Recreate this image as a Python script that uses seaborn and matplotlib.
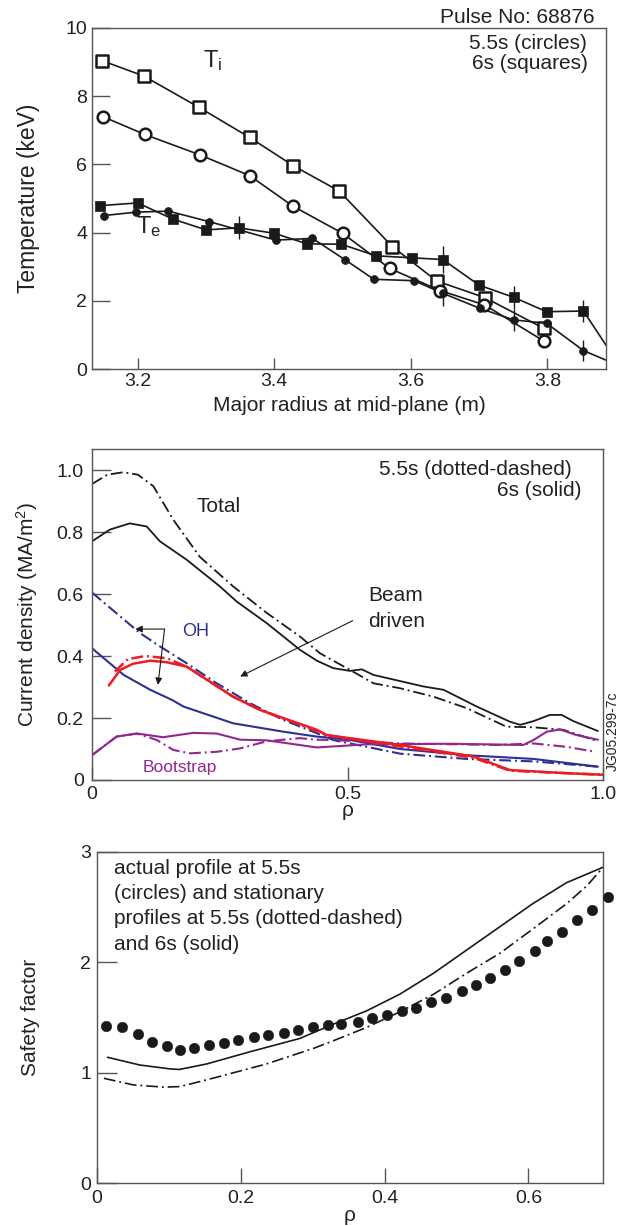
import numpy as np
import pandas as pd
import matplotlib
matplotlib.use("Agg")
import matplotlib.pyplot as plt
import seaborn as sns

# ---------------- data: top panel (temperature) ----------------
ti_sq_R = [3.148, 3.209, 3.290, 3.364, 3.428, 3.495, 3.573, 3.638, 3.709, 3.795]
ti_sq_T = [9.04, 8.59, 7.67, 6.79, 5.96, 5.22, 3.59, 2.58, 2.09, 1.19]
ti_ci_R = [3.149, 3.210, 3.291, 3.364, 3.427, 3.500, 3.569, 3.643, 3.708, 3.795]
ti_ci_T = [7.40, 6.88, 6.28, 5.67, 4.78, 3.98, 2.95, 2.30, 1.88, 0.82]
te_sq_R = [3.144, 3.200, 3.251, 3.300, 3.348, 3.400, 3.448, 3.498, 3.549, 3.602, 3.647, 3.700, 3.751, 3.799, 3.853]
te_sq_T = [4.79, 4.87, 4.40, 4.08, 4.14, 3.98, 3.67, 3.66, 3.32, 3.26, 3.21, 2.46, 2.10, 1.68, 1.70]
te_ci_R = [3.150, 3.198, 3.245, 3.305, 3.402, 3.456, 3.504, 3.546, 3.605, 3.647, 3.701, 3.751, 3.799, 3.853]
te_ci_T = [4.50, 4.60, 4.63, 4.32, 3.78, 3.83, 3.20, 2.63, 2.59, 2.22, 1.78, 1.44, 1.34, 0.54]
# where the Te lines leave the plot at the right edge
te_sq_edge = [3.886, 0.70]
te_ci_edge = [3.886, 0.26]
# error bars
eb_sq_R = [3.348, 3.647, 3.751, 3.853]
eb_sq_T = [4.14, 3.21, 2.10, 1.70]
eb_sq_err = [0.34, 0.40, 0.34, 0.33]
eb_ci_R = [3.647, 3.751, 3.853]
eb_ci_T = [2.22, 1.44, 0.54]
eb_ci_err = [0.38, 0.33, 0.30]

# ---------------- data: middle panel (current density) ----------------
tot55_x = [0.0, 0.03, 0.061, 0.09, 0.12, 0.159, 0.211, 0.276, 0.342, 0.407, 0.446, 0.505, 0.551, 0.603, 0.668, 0.733, 0.811, 0.864, 0.922, 0.99]
tot55_y = [0.955, 0.985, 0.993, 0.985, 0.948, 0.84, 0.72, 0.625, 0.539, 0.463, 0.409, 0.355, 0.312, 0.296, 0.269, 0.232, 0.172, 0.17, 0.162, 0.125]
tot6_x = [0.0, 0.035, 0.074, 0.107, 0.133, 0.185, 0.25, 0.283, 0.342, 0.407, 0.44, 0.472, 0.505, 0.528, 0.551, 0.648, 0.688, 0.753, 0.818, 0.838, 0.864, 0.896, 0.919, 0.942, 0.99]
tot6_y = [0.77, 0.808, 0.828, 0.818, 0.77, 0.711, 0.625, 0.576, 0.506, 0.42, 0.385, 0.361, 0.352, 0.357, 0.339, 0.302, 0.291, 0.237, 0.188, 0.178, 0.19, 0.21, 0.21, 0.19, 0.158]
oh55_x = [0.0, 0.055, 0.094, 0.133, 0.185, 0.244, 0.309, 0.374, 0.44, 0.472, 0.603, 0.733, 0.864, 0.99]
oh55_y = [0.605, 0.528, 0.474, 0.431, 0.377, 0.312, 0.248, 0.194, 0.151, 0.129, 0.085, 0.068, 0.06, 0.043]
oh6_x = [0.0, 0.062, 0.114, 0.157, 0.179, 0.276, 0.374, 0.44, 0.505, 0.603, 0.733, 0.864, 0.99]
oh6_y = [0.425, 0.339, 0.291, 0.258, 0.237, 0.183, 0.156, 0.14, 0.129, 0.1, 0.08, 0.068, 0.043]
nb55_x = [0.045, 0.07, 0.104, 0.146, 0.185, 0.276, 0.329, 0.44, 0.459, 0.603, 0.746, 0.818, 0.929, 1.0]
nb55_y = [0.35, 0.39, 0.40, 0.393, 0.366, 0.269, 0.226, 0.158, 0.145, 0.108, 0.072, 0.03, 0.022, 0.017]
nb6_x = [0.033, 0.055, 0.08, 0.114, 0.146, 0.185, 0.276, 0.329, 0.44, 0.459, 0.603, 0.746, 0.818, 0.929, 1.0]
nb6_y = [0.305, 0.355, 0.375, 0.385, 0.38, 0.366, 0.269, 0.226, 0.162, 0.145, 0.113, 0.076, 0.032, 0.022, 0.017]
bs6_x = [0.0, 0.048, 0.088, 0.139, 0.198, 0.244, 0.29, 0.342, 0.44, 0.538, 0.701, 0.844, 0.864, 0.89, 0.916, 0.948, 0.99]
bs6_y = [0.08, 0.14, 0.15, 0.138, 0.152, 0.15, 0.13, 0.128, 0.105, 0.115, 0.117, 0.113, 0.129, 0.156, 0.163, 0.145, 0.13]
bs55_x = [0.0, 0.048, 0.088, 0.127, 0.159, 0.192, 0.244, 0.29, 0.342, 0.407, 0.44, 0.472, 0.603, 0.798, 0.864, 0.929, 0.985]
bs55_y = [0.08, 0.14, 0.15, 0.129, 0.097, 0.086, 0.091, 0.102, 0.125, 0.135, 0.13, 0.129, 0.118, 0.113, 0.118, 0.107, 0.091]

# ---------------- data: bottom panel (safety factor) ----------------
q_ci_x = [0.013, 0.035, 0.058, 0.077, 0.097, 0.116, 0.135, 0.156, 0.177, 0.197, 0.218, 0.238, 0.26, 0.28, 0.301,
          0.322, 0.340, 0.363, 0.383, 0.404, 0.424, 0.444, 0.464, 0.485, 0.507, 0.527, 0.547, 0.568, 0.587, 0.609,
          0.626, 0.647, 0.668, 0.688, 0.710]
q_ci_y = [1.42, 1.41, 1.35, 1.28, 1.24, 1.21, 1.22, 1.25, 1.27, 1.30, 1.32, 1.345, 1.36, 1.39, 1.41,
          1.43, 1.44, 1.46, 1.50, 1.52, 1.555, 1.59, 1.64, 1.68, 1.74, 1.79, 1.86, 1.93, 2.01, 2.10,
          2.19, 2.27, 2.38, 2.47, 2.59]
q6_x = [0.015, 0.06, 0.102, 0.115, 0.153, 0.213, 0.282, 0.329, 0.375, 0.421, 0.468, 0.514, 0.560, 0.606, 0.653, 0.704]
q6_y = [1.14, 1.07, 1.035, 1.03, 1.08, 1.19, 1.31, 1.44, 1.56, 1.71, 1.90, 2.11, 2.32, 2.53, 2.72, 2.86]
q55_x = [0.01, 0.051, 0.093, 0.116, 0.167, 0.236, 0.301, 0.329, 0.375, 0.421, 0.468, 0.514, 0.560, 0.606, 0.653, 0.681, 0.704]
q55_y = [0.95, 0.89, 0.87, 0.875, 0.96, 1.08, 1.22, 1.29, 1.41, 1.55, 1.71, 1.90, 2.08, 2.30, 2.53, 2.69, 2.86]

# ---------------- style ----------------
sns.set_theme(style="ticks")
plt.rcParams['font.family'] = ['Liberation Sans', 'DejaVu Sans']
plt.rcParams['mathtext.fontset'] = 'custom'
plt.rcParams['mathtext.rm'] = 'Liberation Sans'
plt.rcParams['mathtext.it'] = 'Liberation Sans'
plt.rcParams['lines.scale_dashes'] = False

SPINE = '#555555'
TXT = '#222222'
BLUE = '#2e3192'
RED = '#ed1c24'
PURP = '#92278f'
DD = (0, (8.5, 2.8, 1.4, 2.8))
TFS = 14      # tick labels
LFS = 15      # axis labels and annotations

fig = plt.figure(figsize=(6.19, 12.26), dpi=100)
W, H = 619, 1226


def add_ax(l, r, top, bot):
    return fig.add_axes([l / W, 1 - bot / H, (r - l) / W, (bot - top) / H])


def style_ax(ax, ylen, xlen, ypad, xpad):
    for s in ax.spines.values():
        s.set_color(SPINE)
        s.set_linewidth(1.0)
    ax.tick_params(axis='y', direction='in', length=ylen, width=1.0, color=SPINE,
                   labelsize=TFS, labelcolor=TXT, pad=ypad, left=True, right=False)
    ax.tick_params(axis='x', direction='in', length=xlen, width=1.0, color=SPINE,
                   labelsize=TFS, labelcolor=TXT, pad=xpad, bottom=True, top=False)


def line(ax, x, y, color, ls='-', lw=1.3):
    sns.lineplot(x=np.asarray(x), y=np.asarray(y), ax=ax, color=color, linestyle=ls,
                 linewidth=lw, sort=False, estimator=None, legend=False)


# ---------------- top panel ----------------
ax1 = add_ax(92, 606, 28, 369)
line(ax1, ti_sq_R, ti_sq_T, 'k', lw=1.2)
line(ax1, ti_ci_R, ti_ci_T, 'k', lw=1.2)
line(ax1, te_sq_R + [te_sq_edge[0]], te_sq_T + [te_sq_edge[1]], 'k', lw=1.2)
line(ax1, te_ci_R + [te_ci_edge[0]], te_ci_T + [te_ci_edge[1]], 'k', lw=1.2)
ax1.errorbar(eb_sq_R, eb_sq_T, yerr=eb_sq_err, fmt='none', ecolor='k', elinewidth=1.0, capsize=0, zorder=3)
ax1.errorbar(eb_ci_R, eb_ci_T, yerr=eb_ci_err, fmt='none', ecolor='k', elinewidth=1.0, capsize=0, zorder=3)
sns.scatterplot(x=ti_sq_R, y=ti_sq_T, ax=ax1, marker='s', s=70, facecolor='white', edgecolor='k', linewidth=1.8, zorder=4)
sns.scatterplot(x=ti_ci_R, y=ti_ci_T, ax=ax1, marker='o', s=70, facecolor='white', edgecolor='k', linewidth=1.8, zorder=4)
sns.scatterplot(x=te_sq_R, y=te_sq_T, ax=ax1, marker='s', s=45, color='k', edgecolor='k', linewidth=0.5, zorder=4)
sns.scatterplot(x=te_ci_R, y=te_ci_T, ax=ax1, marker='o', s=32, color='k', edgecolor='k', linewidth=0.5, zorder=4)
ax1.set_xlim(3.133, 3.886)
ax1.set_ylim(0, 10)
ax1.set_xticks([3.2, 3.4, 3.6, 3.8])
ax1.set_xticklabels(['3.2', '3.4', '3.6', '3.8'])
ax1.set_yticks([0, 2, 4, 6, 8, 10])
ax1.set_yticklabels(['0', '2', '4', '6', '8', '10'])
style_ax(ax1, 13, 8, 3.5, 3)
ax1.set_xlabel('Major radius at mid-plane (m)', fontsize=LFS, color=TXT, labelpad=4)
ax1.set_ylabel('Temperature (keV)', fontsize=16.5, color=TXT)
ax1.yaxis.set_label_coords((40 - 92) / 514, 0.5)
ax1.text(3.295, 8.86, r'T$_\mathrm{i}$', fontsize=17, color=TXT, ha='left', va='baseline')
ax1.text(3.198, 3.98, r'T$_\mathrm{e}$', fontsize=17, color=TXT, ha='left', va='baseline')
ax1.text(0.9786, 1.032, 'Pulse No: 68876', transform=ax1.transAxes, fontsize=LFS, color=TXT, ha='right', va='center')
ax1.text(0.963, 0.956, '5.5s (circles)', transform=ax1.transAxes, fontsize=LFS, color=TXT, ha='right', va='center')
ax1.text(0.965, 0.897, '6s (squares)', transform=ax1.transAxes, fontsize=LFS, color=TXT, ha='right', va='center')

# ---------------- middle panel ----------------
ax2 = add_ax(92, 603, 449, 780)
line(ax2, tot55_x, tot55_y, 'k', DD, 1.3)
line(ax2, tot6_x, tot6_y, 'k', '-', 1.3)
line(ax2, oh55_x, oh55_y, BLUE, DD, 1.5)
line(ax2, oh6_x, oh6_y, BLUE, '-', 1.5)
line(ax2, bs55_x, bs55_y, PURP, DD, 1.5)
line(ax2, bs6_x, bs6_y, PURP, '-', 1.5)
line(ax2, nb55_x, nb55_y, RED, DD, 1.8)
line(ax2, nb6_x, nb6_y, RED, '-', 1.8)
ax2.set_xlim(0, 1.0)
ax2.set_ylim(0, 1.068)
ax2.set_xticks([0, 0.5, 1.0])
ax2.set_xticklabels(['0', '0.5', '1.0'])
ax2.set_yticks([0, 0.2, 0.4, 0.6, 0.8, 1.0])
ax2.set_yticklabels(['0', '0.2', '0.4', '0.6', '0.8', '1.0'])
style_ax(ax2, 13.5, 9.5, 6, 4)
ax2.set_xlabel('ρ', fontsize=LFS, color=TXT, labelpad=-1)
ax2.set_ylabel('Current density (MA/m$^\\mathrm{2}$)', fontsize=LFS, color=TXT)
ax2.yaxis.set_label_coords((40 - 92) / 511, 0.5)
arrow_kw = dict(arrowstyle='-|>', color='k', lw=0.8, mutation_scale=10, shrinkA=0, shrinkB=0)
ax2.annotate('', xy=(0.085, 0.487), xytext=(0.142, 0.487), arrowprops=arrow_kw)
ax2.annotate('', xy=(0.129, 0.307), xytext=(0.142, 0.487), arrowprops=arrow_kw)
ax2.annotate('', xy=(0.290, 0.334), xytext=(0.510, 0.514), arrowprops=arrow_kw)
ax2.text(0.205, 0.864, 'Total', fontsize=LFS, color=TXT, ha='left', va='baseline')
ax2.text(0.541, 0.576, 'Beam', fontsize=LFS, color=TXT, ha='left', va='baseline')
ax2.text(0.541, 0.495, 'driven', fontsize=LFS, color=TXT, ha='left', va='baseline')
ax2.text(0.177, 0.465, 'OH', fontsize=13, color=BLUE, ha='left', va='baseline')
ax2.text(0.099, 0.027, 'Bootstrap', fontsize=12.5, color=PURP, ha='left', va='baseline')
ax2.text(0.939, 0.985, '5.5s (dotted-dashed)', fontsize=LFS, color=TXT, ha='right', va='baseline')
ax2.text(0.958, 0.915, '6s (solid)', fontsize=LFS, color=TXT, ha='right', va='baseline')
fig.text(613 / W, 1 - 731 / H, 'JG05.299-7c', rotation=90, fontsize=10, color=TXT, ha='center', va='center')

# ---------------- bottom panel ----------------
ax3 = add_ax(96.7, 603.3, 851.7, 1183.3)
line(ax3, q6_x, q6_y, 'k', '-', 1.2)
line(ax3, q55_x, q55_y, 'k', DD, 1.2)
sns.scatterplot(x=q_ci_x, y=q_ci_y, ax=ax3, marker='o', s=58, color='k', edgecolor='k', linewidth=0.3, zorder=4, clip_on=False)
ax3.set_xlim(0, 0.704)
ax3.set_ylim(0, 3)
ax3.set_xticks([0, 0.2, 0.4, 0.6])
ax3.set_xticklabels(['0', '0.2', '0.4', '0.6'])
ax3.set_yticks([0, 1, 2, 3])
ax3.set_yticklabels(['0', '1', '2', '3'])
style_ax(ax3, 14.5, 10.8, 4, 5)
ax3.set_xlabel('ρ', fontsize=LFS, color=TXT, labelpad=-1)
ax3.set_ylabel('Safety factor', fontsize=LFS, color=TXT)
ax3.yaxis.set_label_coords((40 - 96.7) / 506.6, 0.5)
ax3.text(0.0244, 2.935, 'actual profile at 5.5s\n(circles) and stationary\nprofiles at 5.5s (dotted-dashed)\nand 6s (solid)',
         fontsize=LFS, color=TXT, ha='left', va='top', linespacing=1.42)

for a in (ax1, ax2, ax3):
    if a.get_legend() is not None:
        a.get_legend().remove()

fig.savefig('out.png', dpi=100)
